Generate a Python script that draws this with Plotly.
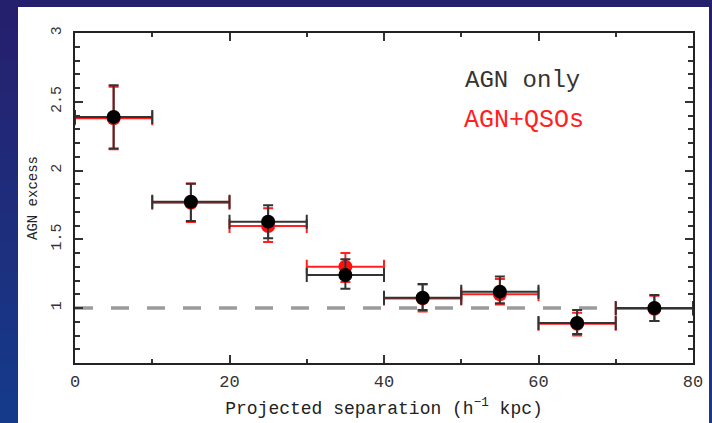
import plotly.graph_objects as go

# ---- data ----
sep_centers = [5, 15, 25, 35, 45, 55, 65, 75]          # projected separation (h^-1 kpc)
bin_half_width = [5, 5, 5, 5, 5, 5, 5, 5]

agn_only = [2.39, 1.773, 1.628, 1.24, 1.075, 1.119, 0.891, 1.00]
agn_only_err_plus = [0.23, 0.13, 0.12, 0.115, 0.10, 0.11, 0.095, 0.095]
agn_only_err_minus = [0.23, 0.14, 0.12, 0.10, 0.09, 0.085, 0.08, 0.095]

agn_qso = [2.38, 1.765, 1.596, 1.30, 1.07, 1.10, 0.885, 0.995]
agn_qso_err_plus = [0.23, 0.14, 0.13, 0.10, 0.10, 0.11, 0.08, 0.095]
agn_qso_err_minus = [0.225, 0.14, 0.116, 0.11, 0.095, 0.075, 0.085, 0.09]

ref_x = [0, 68]
ref_y = [1, 1]

x_tick_vals = [0, 20, 40, 60, 80]
x_tick_text = ["0", "20", "40", "60", "80"]
y_tick_vals = [1, 1.5, 2, 2.5, 3]
y_tick_text = ["1", "1.5", "2", "2.5", "3"]

FONT = "Liberation Mono"

fig = go.Figure()

fig.add_trace(go.Scatter(
    x=ref_x, y=ref_y, mode="lines",
    line=dict(color="#9a9a9a", width=3.5, dash="18px,18px"),
    showlegend=False, hoverinfo="skip"))

fig.add_trace(go.Scatter(
    x=sep_centers, y=agn_qso, mode="markers", name="AGN+QSOs",
    marker=dict(color="#ff1010", size=14),
    error_x=dict(type="data", array=bin_half_width, color="#ff2020", thickness=2, width=7),
    error_y=dict(type="data", array=agn_qso_err_plus, arrayminus=agn_qso_err_minus,
                 color="#ff2020", thickness=2, width=5),
    showlegend=False))

fig.add_trace(go.Scatter(
    x=sep_centers, y=agn_only, mode="markers", name="AGN only",
    marker=dict(color="#000000", size=14),
    error_x=dict(type="data", array=bin_half_width, color="#333333", thickness=2, width=7),
    error_y=dict(type="data", array=agn_only_err_plus, arrayminus=agn_only_err_minus,
                 color="#333333", thickness=2, width=5),
    showlegend=False))

# ---- background ----
shapes = []
W, H = 712, 423
L, R, T, B = 75, 693, 33, 363
pw, ph = R - L, B - T
def px_x(p):
    return (p - L) / pw
def px_y(p):
    return (B - p) / ph
top_c = (0x25, 0x20, 0x6e)
bot_c = (0x16, 0x3a, 0x8a)
n = 14
for i in range(n):
    f = i / (n - 1)
    c = tuple(int(round(top_c[k] + (bot_c[k] - top_c[k]) * f)) for k in range(3))
    y0 = i * H / n
    y1 = (i + 1) * H / n + 1
    shapes.append(dict(type="rect", xref="paper", yref="paper",
                       x0=px_x(-2), x1=px_x(W + 2), y0=px_y(y1), y1=px_y(y0),
                       fillcolor="rgb(%d,%d,%d)" % c, line=dict(width=0), layer="below"))
shapes.append(dict(type="rect", xref="paper", yref="paper",
                   x0=px_x(18), x1=px_x(709), y0=px_y(H + 5), y1=px_y(7),
                   fillcolor="white", line=dict(width=0), layer="below"))

fig.update_layout(
    width=W, height=H,
    margin=dict(l=L, r=W - R, t=T, b=H - B, pad=0, autoexpand=False),
    paper_bgcolor="rgb(34,42,120)",
    plot_bgcolor="white",
    shapes=shapes,
    font=dict(family=FONT, color="#222"),
    xaxis=dict(
        range=[0, 80], tickvals=x_tick_vals, ticktext=x_tick_text, automargin=False,
        ticks="inside", ticklen=8, tickwidth=1.5, tickcolor="#333",
        showline=True, linecolor="#222", linewidth=2, mirror="allticks",
        showgrid=False, zeroline=False,
        minor=dict(dtick=10, tick0=0, ticks="inside", ticklen=4, tickcolor="#333", showgrid=False),
        tickfont=dict(family=FONT, size=17, color="#333"), ticklabelstandoff=2,
        title=dict(text="Projected separation (h<sup>−1</sup> kpc)",
                   font=dict(family=FONT, size=18, color="#222"), standoff=10),
    ),
    yaxis=dict(
        range=[0.6, 3], tickvals=y_tick_vals, ticktext=y_tick_text, tickangle=-90, automargin=False,
        ticks="inside", ticklen=8, tickwidth=1.5, tickcolor="#333",
        showline=True, linecolor="#222", linewidth=2, mirror="allticks",
        showgrid=False, zeroline=False,
        minor=dict(dtick=0.1, tick0=0, ticks="inside", ticklen=5, tickcolor="#333", showgrid=False),
        tickfont=dict(family=FONT, size=15, color="#333"), ticklabelstandoff=6,
        title=dict(text="AGN excess", font=dict(family=FONT, size=14, color="#222"), standoff=8),
    ),
    annotations=[
        dict(x=50.2, y=2.658, xref="x", yref="y", text="AGN only", showarrow=False,
             xanchor="left", font=dict(family=FONT, size=24, color="#333")),
        dict(x=50.1, y=2.367, xref="x", yref="y", text="AGN+QSOs", showarrow=False,
             xanchor="left", font=dict(family=FONT, size=25, color="#ff2020")),
    ],
)

fig.write_html(
    "out.html",
    config={"displayModeBar": False},
    post_script="document.body.style.margin='0';document.body.style.padding='0';"
                "document.body.style.overflow='hidden';document.body.style.background='rgb(34,42,120)';",
)
